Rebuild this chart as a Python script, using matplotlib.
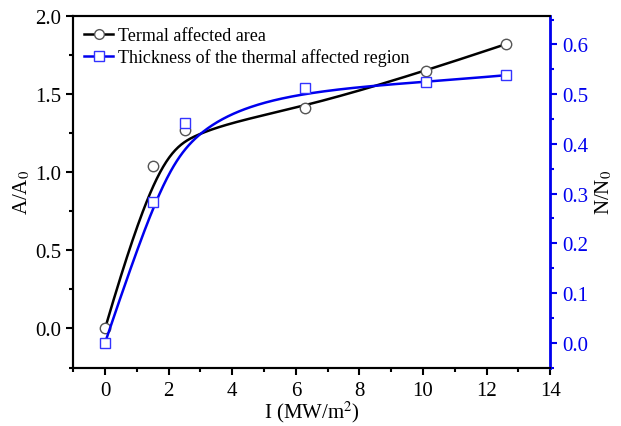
import numpy as np
import matplotlib
matplotlib.use("Agg")
import matplotlib.pyplot as plt
from matplotlib.ticker import MultipleLocator

intensity = [0, 1.5, 2.5, 6.3, 10.1, 12.6]
area = [0.0, 1.04, 1.27, 1.41, 1.65, 1.82]
thickness = [0.0, 0.283, 0.441, 0.512, 0.524, 0.538]


def bspline(xs, ys, n=300, k=3):
    # clamped B-spline using the points as control points (like Origin's B-spline)
    pts = np.column_stack([xs, ys])
    m = len(pts)
    inner = np.linspace(0, 1, m - k + 1)[1:-1]
    knots = np.concatenate([np.zeros(k + 1), inner, np.ones(k + 1)])
    out = []
    for t in np.linspace(0, 1, n):
        t = min(t, 1 - 1e-12)
        j = np.searchsorted(knots, t, side="right") - 1
        d = [pts[j - k + i].copy() for i in range(k + 1)]
        for r in range(1, k + 1):
            for i in range(k, r - 1, -1):
                a = (t - knots[j - k + i]) / (knots[i + 1 + j - r] - knots[j - k + i])
                d[i] = (1 - a) * d[i - 1] + a * d[i]
        out.append(d[k])
    out = np.array(out)
    return out[:, 0], out[:, 1]


plt.rcParams['font.family'] = ['Liberation Serif', 'DejaVu Serif']
plt.rcParams['mathtext.fontset'] = 'stix'
fig, ax = plt.subplots(figsize=(6.21, 4.27), dpi=100)
fig.subplots_adjust(left=0.118, right=0.886, top=0.96, bottom=0.137)
ax2 = ax.twinx()

bx, by = bspline(intensity, area)
ax.plot(bx, by, color="black", lw=1.8, zorder=3)
ax.plot(intensity, area, "o", ms=7.5, mfc="white", mec="#555555", mew=1.0, zorder=4)
h1, = ax.plot([], [], "-o", color="black", lw=1.8, ms=7, mfc="white", mec="#555555")

cx, cy = bspline(intensity, thickness)
ax2.plot(cx, cy, color="#0000ee", lw=1.8, zorder=3)
ax2.plot(intensity, thickness, "s", ms=7, mfc="white", mec="#3333ff", mew=1.0, zorder=4)
h2, = ax.plot([], [], "-s", color="#0000ee", lw=1.8, ms=6.5, mfc="white", mec="#3333ff")

ax.set_xlim(-1, 14)
ax.set_ylim(-0.25, 2.0)
ax2.set_ylim(-0.05, 0.657)

ax.xaxis.set_major_locator(MultipleLocator(2))
ax.xaxis.set_minor_locator(MultipleLocator(1))
ax.yaxis.set_major_locator(MultipleLocator(0.5))
ax.yaxis.set_minor_locator(MultipleLocator(0.25))
ax2.yaxis.set_major_locator(MultipleLocator(0.1))
ax2.yaxis.set_minor_locator(MultipleLocator(0.05))

ax.tick_params(which="both", direction="out", width=1.5, labelsize=15)
ax.tick_params(which="major", length=5)
ax.tick_params(which="minor", length=3)
ax.tick_params(axis="x", pad=5)
ax2.tick_params(which="both", direction="out", width=1.5, colors="#0000ee", labelsize=15)
ax2.tick_params(which="major", length=5)
ax2.tick_params(which="minor", length=3)

for s in ["left", "bottom", "top"]:
    ax.spines[s].set_linewidth(1.5)
    ax2.spines[s].set_linewidth(1.5)
ax2.spines["right"].set_color("#0000ee")
ax2.spines["right"].set_linewidth(2)
ax.spines["right"].set_visible(False)

ax.set_xlabel("I (MW/m$^2$)", fontsize=15, labelpad=-1)
ax.set_ylabel("A/A$_0$", fontsize=15, labelpad=2)
ax2.set_ylabel("N/N$_0$", fontsize=15, labelpad=4)

ax.legend([h1, h2], ["Termal affected area", "Thickness of the thermal affected region"],
          loc="upper left", frameon=False, fontsize=13, handlelength=1.6,
          handletextpad=0.3, borderaxespad=0.2, labelspacing=0.25)

fig.savefig("out.png", dpi=100)
